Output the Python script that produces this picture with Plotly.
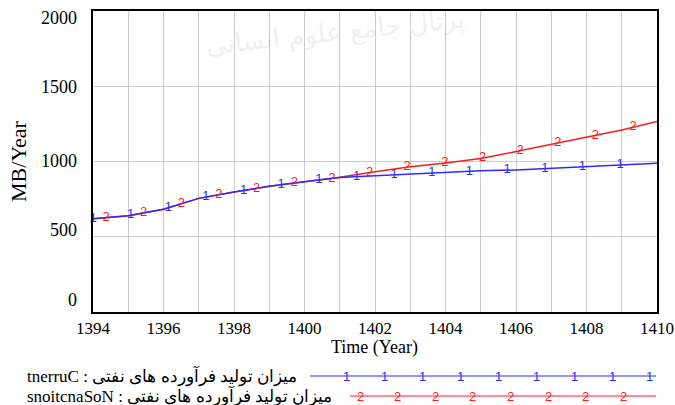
import numpy as np
import plotly.graph_objects as go

years = list(range(1394, 1411))
current = [620, 640, 683, 755, 797, 835, 865, 893, 906, 918, 928, 938, 944, 955, 965, 976, 988]
no_sanctions = [620, 640, 683, 755, 797, 835, 865, 895, 932, 965, 990, 1020, 1066, 1113, 1158, 1210, 1266]

y_ticks = [0, 500, 1000, 1500, 2000]
x_ticks = list(range(1394, 1411, 2))

label_current = "tnerruC : میزان تولید فرآورده های نفتی"
label_nosanc = "snoitcnaSoN : میزان تولید فرآورده های نفتی"
watermark = "پرتال جامع علوم انسانی"

BLUE = "#2b2bff"
RED = "#ff1a1a"
SERIF = "Liberation Serif, Times New Roman, serif"

W, H = 675, 405
# plot box in page pixels
L, R, T, B = 93, 657, 11, 312


def px(x):
    return (x - L) / (R - L)


def py(y):
    return (B - y) / (B - T)


# Vensim style number markers along each line
step = 1.068
mk_blue = 1394 + step * np.arange(15)
mk_red = 1394.37 + step * np.arange(15)

fig = go.Figure()
fig.add_trace(go.Scatter(x=years, y=no_sanctions, mode="lines",
                         line=dict(color=RED, width=1.5), showlegend=False))
fig.add_trace(go.Scatter(x=years, y=current, mode="lines",
                         line=dict(color=BLUE, width=1.5), showlegend=False))
fig.add_trace(go.Scatter(x=mk_red, y=np.interp(mk_red, years, no_sanctions), mode="text",
                         text=["2"] * len(mk_red), textposition="middle center",
                         textfont=dict(color=RED, size=13, family="Liberation Sans, Arial"),
                         showlegend=False, cliponaxis=False))
fig.add_trace(go.Scatter(x=mk_blue, y=np.interp(mk_blue, years, current), mode="text",
                         text=["1"] * len(mk_blue), textposition="middle center",
                         textfont=dict(color=BLUE, size=13, family="Liberation Sans, Arial"),
                         showlegend=False, cliponaxis=False))

# legend drawn like the Vensim one
legend_rows = [
    (label_current, 376, 310, BLUE, "1", [346, 384, 422, 460, 498, 536, 574, 612, 649]),
    (label_nosanc, 396, 350, RED, "2", [360, 397, 435, 472, 510, 548, 585, 623]),
]
shapes = []
annotations = []
for text, ypix, x0, col, sym, marks in legend_rows:
    annotations.append(dict(x=px(25), y=py(ypix), xref="paper", yref="paper", text=text,
                            showarrow=False, xanchor="left", yanchor="middle",
                            font=dict(family=SERIF, size=17, color="black")))
    shapes.append(dict(type="line", xref="paper", yref="paper", x0=px(x0), x1=px(656),
                       y0=py(ypix), y1=py(ypix), line=dict(color=col, width=1.2)))
    for m in marks:
        annotations.append(dict(x=px(m), y=py(ypix), xref="paper", yref="paper", text=sym,
                                showarrow=False, xanchor="center", yanchor="middle",
                                font=dict(family="Liberation Sans, Arial", size=13, color=col)))

# Vensim pulls the end labels of the value axis inwards
for val, ypix in zip(y_ticks, [300, 230, 161, 87, 18]):
    annotations.append(dict(x=px(79), y=py(ypix), xref="paper", yref="paper", text=str(val),
                            showarrow=False, xanchor="right", yanchor="middle",
                            font=dict(family=SERIF, size=18, color="black")))

annotations.append(dict(x=px(374), y=py(347), xref="paper", yref="paper", text="Time (Year)",
                        showarrow=False, xanchor="center", yanchor="middle",
                        font=dict(family=SERIF, size=18, color="black")))

annotations.append(dict(x=px(335), y=py(32), xref="paper", yref="paper", text=watermark,
                        showarrow=False, textangle=-6, opacity=0.1, xanchor="center",
                        yanchor="middle",
                        font=dict(family="DejaVu Sans", size=26, color="#777777")))

fig.update_layout(
    width=W, height=H,
    margin=dict(l=L, r=W - R, t=T, b=H - B),
    paper_bgcolor="white", plot_bgcolor="white",
    font=dict(family=SERIF, size=18, color="black"),
    shapes=shapes, annotations=annotations,
)
fig.update_xaxes(range=[1394, 1410], tickvals=x_ticks, showgrid=True, gridcolor="#cccccc",
                 gridwidth=1, minor=dict(dtick=1, showgrid=True, gridcolor="#cccccc"),
                 showline=True, linecolor="black", linewidth=2, mirror=True, ticks="",
                 zeroline=False, automargin=False, tickfont=dict(size=17))
fig.update_yaxes(range=[0, 2000], tickvals=y_ticks, showgrid=True, gridcolor="#cccccc",
                 gridwidth=1, showline=True, linecolor="black", linewidth=2, mirror=True,
                 ticks="", zeroline=False, automargin=False, showticklabels=False,
                 title=dict(text="MB/Year", standoff=58))

# drop the default 8px body margin so the figure fills the window exactly
fig.write_html("out.html", config={"displayModeBar": False},
               post_script="document.body.style.margin='0';")
